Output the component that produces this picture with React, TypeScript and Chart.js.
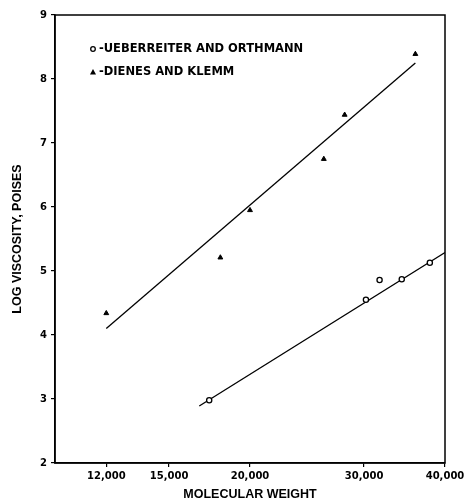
import React, { useEffect, useRef } from "react";
import { Chart, registerables } from "chart.js";

Chart.register(...registerables);

// Data (molecular weight vs log viscosity, poises)
const xTickValues = [12000, 15000, 20000, 30000, 40000];
const yTickValues = [2, 3, 4, 5, 6, 7, 8, 9];

const ueberMW = [17300, 30200, 31700, 34300, 37900];
const ueberLogVisc = [2.98, 4.55, 4.86, 4.87, 5.13];

const dienesMW = [12000, 18000, 20000, 26000, 28000, 36000];
const dienesLogVisc = [4.34, 5.21, 5.95, 6.75, 7.44, 8.39];

const ueberFitMW = [16700, 40000];
const ueberFitLog = [2.89, 5.29];

const dienesFitMW = [12000, 36000];
const dienesFitLog = [4.1, 8.25];

const legendLabels = ["-UEBERREITER AND ORTHMANN", "-DIENES AND KLEMM"];
const xTitle = "MOLECULAR WEIGHT";
const yTitle = "LOG VISCOSITY, POISES";

const zip = (xs: number[], ys: number[]) => xs.map((x, i) => ({ x, y: ys[i] }));

const TICK_FONT = { family: "'DejaVu Sans', sans-serif", size: 10, weight: "bold" as const };
const TITLE_FONT = {
  family: "'Liberation Sans', Arial, sans-serif",
  size: 12.5,
  weight: "bold" as const,
};

const framePlugin = {
  id: "frame",
  afterDraw(chart: any) {
    const { ctx, chartArea } = chart;
    ctx.save();
    ctx.strokeStyle = "#000";
    ctx.lineWidth = 1.5;
    ctx.strokeRect(chartArea.left, chartArea.top, chartArea.right - chartArea.left, chartArea.bottom - chartArea.top);
    // legend
    const lx = chartArea.left + 38;
    const ly1 = chartArea.top + 34;
    const ly2 = chartArea.top + 57;
    ctx.lineWidth = 1.3;
    ctx.beginPath();
    ctx.arc(lx, ly1, 2.3, 0, Math.PI * 2);
    ctx.fillStyle = "#fff";
    ctx.fill();
    ctx.stroke();
    ctx.fillStyle = "#000";
    ctx.beginPath();
    ctx.moveTo(lx, ly2 - 3);
    ctx.lineTo(lx + 3, ly2 + 2.5);
    ctx.lineTo(lx - 3, ly2 + 2.5);
    ctx.closePath();
    ctx.fill();
    ctx.font = "bold 11.5px 'DejaVu Sans', sans-serif";
    ctx.textBaseline = "middle";
    ctx.textAlign = "left";
    ctx.fillText(legendLabels[0], lx + 6, ly1);
    ctx.fillText(legendLabels[1], lx + 6, ly2);
    ctx.restore();
  },
};

export default function App() {
  const ref = useRef<HTMLCanvasElement>(null);
  useEffect(() => {
    if (!ref.current) return;
    const chart = new Chart(ref.current, {
      type: "scatter",
      data: {
        datasets: [
          {
            label: "Ueberreiter and Orthmann",
            data: zip(ueberMW, ueberLogVisc),
            pointStyle: "circle",
            pointRadius: 2.6,
            backgroundColor: "#fff",
            borderColor: "#000",
            borderWidth: 1.3,
          },
          {
            label: "Dienes and Klemm",
            data: zip(dienesMW, dienesLogVisc),
            pointStyle: "triangle",
            pointRadius: 2.8,
            backgroundColor: "#000",
            borderColor: "#000",
            borderWidth: 1,
          },
          {
            label: "fit U",
            data: zip(ueberFitMW, ueberFitLog),
            showLine: true,
            pointRadius: 0,
            borderColor: "#000",
            borderWidth: 1.3,
          },
          {
            label: "fit D",
            data: zip(dienesFitMW, dienesFitLog),
            showLine: true,
            pointRadius: 0,
            borderColor: "#000",
            borderWidth: 1.3,
          },
        ],
      },
      options: {
        animation: false,
        responsive: false,
        layout: { padding: { top: 15, right: 20, left: 0, bottom: 0 } },
        plugins: { legend: { display: false }, tooltip: { enabled: false } },
        scales: {
          x: {
            type: "logarithmic",
            min: 10000,
            max: 40000,
            afterBuildTicks: (scale: any) => {
              scale.ticks = xTickValues.map((v) => ({ value: v }));
            },
            afterFit: (scale: any) => {
              scale.height = 39;
              scale.paddingRight = 0;
              scale.paddingLeft = 0;
            },
            grid: { display: true, drawOnChartArea: false, drawTicks: true, tickLength: 4, color: "#000", lineWidth: 1.2 },
            border: { display: true, color: "#000", width: 1.5 },
            ticks: {
              color: "#000",
              font: TICK_FONT,
              padding: 3,
              autoSkip: false,
              maxRotation: 0,
              callback: (v: any) => Number(v).toLocaleString("en-US"),
            },
            title: { display: true, text: xTitle, color: "#000", font: TITLE_FONT, padding: { top: 0, bottom: 0 } },
          },
          y: {
            type: "linear",
            min: 2,
            max: 9,
            afterBuildTicks: (scale: any) => {
              scale.ticks = yTickValues.map((v) => ({ value: v }));
            },
            afterFit: (scale: any) => {
              scale.width = 55;
            },
            grid: { display: true, drawOnChartArea: false, drawTicks: true, tickLength: 4, color: "#000", lineWidth: 1.2 },
            border: { display: true, color: "#000", width: 1.5 },
            ticks: { color: "#000", font: TICK_FONT, padding: 4 },
            title: { display: true, text: yTitle, color: "#000", font: TITLE_FONT, padding: { top: 10, bottom: 0 } },
          },
        },
      },
      plugins: [framePlugin],
    } as any);
    return () => chart.destroy();
  }, []);
  return (
    <div style={{ position: "absolute", left: 0, top: 0, width: 465, height: 502, background: "#fff" }}>
      <canvas ref={ref} width={465} height={502} style={{ display: "block" }} />
    </div>
  );
}
